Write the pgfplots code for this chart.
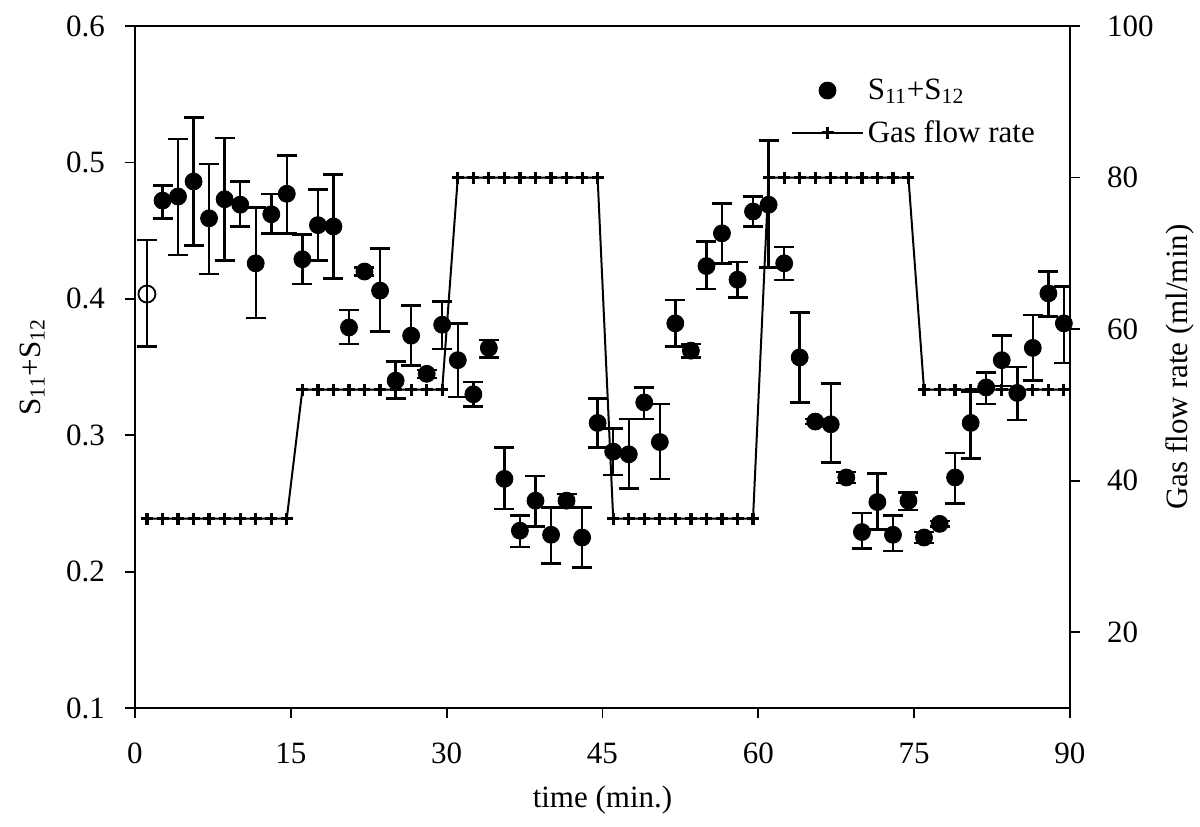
\documentclass[border=0pt]{standalone}
\usepackage{pgfplots}
\usepackage{pgfplotstable}
\pgfplotsset{compat=1.18}
\usepackage{fontspec}
\setmainfont{Liberation Serif}

\pgfplotsset{widelegend/.style={legend image code/.code={\draw[mark repeat=2,mark phase=2,##1] plot coordinates {(0cm,0cm) (0.62cm,0cm) (1.24cm,0cm)};}}}

\pgfplotstableread{
t y ep em
2.65 0.472 0.011 0.013
4.14 0.475 0.042 0.043
5.64 0.486 0.047 0.047
7.13 0.459 0.040 0.041
8.63 0.473 0.045 0.045
10.13 0.469 0.017 0.016
11.62 0.426 0.041 0.040
13.12 0.462 0.015 0.014
14.61 0.477 0.028 0.029
16.11 0.429 0.018 0.018
17.61 0.454 0.026 0.026
19.10 0.453 0.038 0.038
20.60 0.379 0.013 0.012
22.09 0.420 0.003 0.003
23.59 0.406 0.031 0.030
25.09 0.340 0.014 0.013
26.58 0.373 0.022 0.022
28.08 0.345 0.003 0.003
29.57 0.381 0.017 0.018
31.07 0.355 0.027 0.027
32.57 0.330 0.009 0.009
34.06 0.364 0.006 0.007
35.56 0.268 0.023 0.022
37.05 0.230 0.011 0.012
38.55 0.252 0.018 0.019
40.05 0.227 0.020 0.021
41.54 0.252 0.005 0.005
43.04 0.225 0.022 0.022
44.53 0.309 0.018 0.018
46.03 0.288 0.017 0.017
47.53 0.286 0.026 0.025
49.02 0.324 0.011 0.012
50.52 0.295 0.028 0.027
52.01 0.382 0.017 0.017
53.51 0.362 0.005 0.005
55.01 0.424 0.018 0.017
56.50 0.448 0.022 0.022
58.00 0.414 0.013 0.013
59.49 0.464 0.011 0.011
60.99 0.469 0.047 0.046
62.49 0.426 0.012 0.012
63.98 0.357 0.033 0.033
65.48 0.310 0.002 0.002
66.97 0.308 0.030 0.028
68.47 0.269 0.004 0.004
69.97 0.229 0.014 0.012
71.46 0.251 0.021 0.020
72.96 0.227 0.014 0.012
74.45 0.252 0.006 0.007
75.95 0.225 0.004 0.004
77.45 0.235 0.002 0.002
78.94 0.269 0.018 0.019
80.44 0.309 0.023 0.026
81.93 0.335 0.011 0.012
83.43 0.355 0.018 0.019
84.93 0.331 0.019 0.020
86.42 0.364 0.024 0.024
87.92 0.404 0.016 0.017
89.41 0.382 0.027 0.029
}\dataS

\pgfplotstableread{
t y ep em
1.15 0.4035 0.0395 0.0385
}\dataOpen

\pgfplotstableread{
t g
1.15 35
2.65 35
4.14 35
5.64 35
7.13 35
8.63 35
10.13 35
11.62 35
13.12 35
14.61 35
16.11 52
17.61 52
19.10 52
20.60 52
22.09 52
23.59 52
25.09 52
26.58 52
28.08 52
29.57 52
31.07 80
32.57 80
34.06 80
35.56 80
37.05 80
38.55 80
40.05 80
41.54 80
43.04 80
44.53 80
46.03 35
47.53 35
49.02 35
50.52 35
52.01 35
53.51 35
55.01 35
56.50 35
58.00 35
59.49 35
60.99 80
62.49 80
63.98 80
65.48 80
66.97 80
68.47 80
69.97 80
71.46 80
72.96 80
74.45 80
75.95 52
77.45 52
78.94 52
80.44 52
81.93 52
83.43 52
84.93 52
86.42 52
87.92 52
89.41 52
}\dataGas

\begin{document}
\begin{tikzpicture}
\useasboundingbox (-67.5pt,-59pt) rectangle (532.5pt,354pt);
\pgfplotsset{
  every axis/.append style={
    scale only axis,
    width=467.5pt, height=341pt,
    xmin=0, xmax=90,
    font=\fontsize{15.5}{18}\selectfont,
    tick align=outside,
    major tick length=5pt,
    axis line style={line width=0.9pt},
    every tick/.style={black, line width=0.9pt},
    /pgf/number format/assume math mode=true,
  },
}
\begin{axis}[
  ymin=0.1, ymax=0.6,
  xtick={0,15,30,45,60,75,90},
  ytick={0.1,0.2,0.3,0.4,0.5,0.6},
  yticklabel style={xshift=-6.5pt, /pgf/number format/.cd, fixed, fixed zerofill, precision=1},
  xticklabel style={yshift=-9pt},
  xlabel={time (min.)},
  ylabel={S\textsubscript{11}+S\textsubscript{12}},
  xlabel style={at={(axis description cs:0.5,-0.135)}, anchor=center},
  ylabel style={at={(axis description cs:-0.11,0.5)}, anchor=center},
  xtick pos=bottom,
  ytick pos=left,
]
\addplot[black, only marks, mark=*, mark size=4.25pt,
  error bars/.cd, y dir=both, y explicit,
  error bar style={line width=1.2pt, black},
  error mark options={rotate=90, mark size=5pt, line width=1.2pt, black}]
  table[x=t, y=y, y error plus=ep, y error minus=em] {\dataS};
\addplot[black, only marks, mark=o, mark size=4.25pt, mark options={line width=0.9pt},
  error bars/.cd, y dir=both, y explicit,
  error bar style={line width=1.2pt, black},
  error mark options={rotate=90, mark size=5pt, line width=1.2pt, black}]
  table[x=t, y=y, y error plus=ep, y error minus=em] {\dataOpen};
\end{axis}
\begin{axis}[
  axis y line*=right,
  axis x line=none,
  ymin=10, ymax=100,
  ytick={20,40,60,80,100},
  yticklabel style={xshift=10pt},
  ylabel={Gas flow rate (ml/min)},
  ylabel style={at={(axis description cs:1.1176,0.5)}, anchor=center},
  legend cell align=left,
  legend style={at={(axis description cs:0.695,0.935)}, anchor=north west, draw=none, fill=none,
    row sep=5pt, font=\fontsize{15.5}{18}\selectfont},
]
\addlegendimage{black, only marks, mark=*, mark size=4.25pt, widelegend}
\addlegendentry{S\textsubscript{11}+S\textsubscript{12}}
\addplot[black, line width=1pt, mark=+, mark size=3pt, mark options={line width=1.6pt}, widelegend]
  table[x=t, y=g] {\dataGas};
\addlegendentry{Gas flow rate}
\end{axis}
\end{tikzpicture}
\end{document}
